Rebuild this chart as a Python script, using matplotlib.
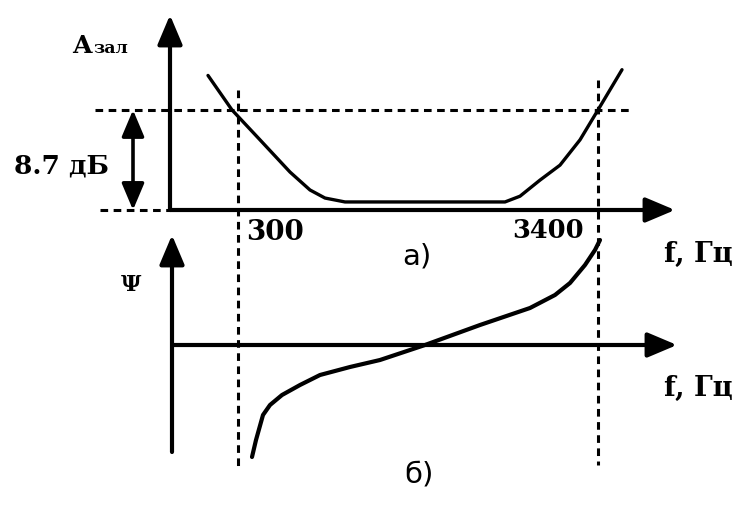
import matplotlib
matplotlib.use("Agg")
import matplotlib.pyplot as plt
import numpy as np

# ---------------- data (x in arbitrary frequency-position units) ----------------
amp_x = [7.6, 12.4, 18.0, 24.0, 28.0, 31.0, 35.0, 50.0, 67.0, 70.0, 74.0, 78.0, 82.0, 85.6, 90.4]
amp_y = [11.7, 8.7, 6.1, 3.3, 1.74, 1.04, 0.7, 0.7, 0.7, 1.2, 2.6, 3.9, 6.1, 8.7, 12.2]

phase_x = [16.4, 17.2, 18.6, 20.0, 22.4, 26.0, 30.0, 36.0, 42.0, 51.0, 62.0, 72.0, 77.0, 80.0, 83.0, 85.0, 86.0]
phase_y = [-11.2, -9.5, -7.0, -6.0, -5.0, -4.0, -3.0, -2.2, -1.5, 0.0, 2.0, 3.7, 5.0, 6.2, 8.0, 9.5, 10.5]

f_low, f_high = 13.6, 85.6          # positions of 300 Hz and 3400 Hz
level_db = 8.7
tick_labels = ["300", "3400"]
axis_label_f = "f, Гц"

W, H = 754, 505
fig = plt.figure(figsize=(W / 100, H / 100), dpi=100)

def fx(px):
    return px / W

def fy(py):
    return 1 - py / H

# top axes: origin at pixel (170, 210), 5 px per x-unit, 11.5 px per dB
ax1 = fig.add_axes([fx(170), fy(210), 510 / W, 195 / H])
ax1.set_xlim(0, 102)
ax1.set_ylim(0, 195 / 11.5)
ax1.axis("off")

# bottom axes: origin at pixel (170, 345), 10 px per unit
ax2 = fig.add_axes([fx(170), fy(465), 510 / W, 230 / H])
ax2.set_xlim(0, 102)
ax2.set_ylim(-12, 11)
ax2.axis("off")

LW = 3.0
arrow_kw = dict(arrowstyle="-|>,head_length=0.9,head_width=0.38", lw=LW, color="k",
                mutation_scale=20, shrinkA=0, shrinkB=0)

# axes arrows
ax1.annotate("", xy=(0, 195 / 11.5), xytext=(0, 0), arrowprops=arrow_kw, annotation_clip=False)
ax1.annotate("", xy=(101, 0), xytext=(0, 0), arrowprops=arrow_kw, annotation_clip=False)
ax2.annotate("", xy=(0.4, 11), xytext=(0.4, -10.7), arrowprops=arrow_kw, annotation_clip=False)
ax2.annotate("", xy=(101.4, 0), xytext=(0.4, 0), arrowprops=arrow_kw, annotation_clip=False)

# curves
ax1.plot(amp_x, amp_y, color="k", lw=2.4, clip_on=False, solid_capstyle="round")
ax2.plot(phase_x, phase_y, color="k", lw=3.0, clip_on=False, solid_capstyle="round")

# dashed guide lines
dash = dict(color="k", lw=2.2, linestyle=(0, (2.5, 1.8)), clip_on=False)
ax1.plot([-15, 92], [level_db, level_db], **dash)
ax1.plot([-14, 0], [0, 0], **dash)
ax1.plot([f_low, f_low], [(210 - 90) / 11.5, (210 - 470) / 11.5], **dash)
ax1.plot([f_high, f_high], [(210 - 80) / 11.5, (210 - 465) / 11.5], **dash)

# 8.7 dB double arrow
dbl = dict(arrowstyle="<|-|>,head_length=0.9,head_width=0.38", lw=2.6, color="k",
           mutation_scale=18, shrinkA=0, shrinkB=0)
ax1.annotate("", xy=(-7.4, level_db), xytext=(-7.4, 0), arrowprops=dbl, annotation_clip=False)

serif = "DejaVu Serif"
sans = "DejaVu Sans"

fig.text(fx(72), fy(53), "A", family=serif, weight="bold", fontsize=18, ha="left", va="baseline")
fig.text(fx(93), fy(53), "зал", family=serif, weight="bold", fontsize=12.5, ha="left", va="baseline")
fig.text(fx(14), fy(173), "8.7 дБ", family=serif, weight="bold", fontsize=19, ha="left", va="baseline")
fig.text(fx(246), fy(240), tick_labels[0], family=serif, weight="bold", fontsize=20, ha="left", va="baseline")
fig.text(fx(512), fy(238), tick_labels[1], family=serif, weight="bold", fontsize=18.5, ha="left", va="baseline")
fig.text(fx(402), fy(265), "а)", family=sans, fontsize=21, ha="left", va="baseline")
fig.text(fx(664), fy(262), axis_label_f, family=serif, weight="bold", fontsize=19.5, ha="left", va="baseline")
fig.text(fx(664), fy(396), axis_label_f, family=serif, weight="bold", fontsize=19.5, ha="left", va="baseline")
fig.text(fx(121), fy(291), "Ψ", family=serif, weight="bold", fontsize=16, ha="left", va="baseline")
fig.text(fx(404), fy(482), "б)", family=sans, fontsize=21, ha="left", va="baseline")

fig.savefig("out.png", dpi=100, facecolor="white")
